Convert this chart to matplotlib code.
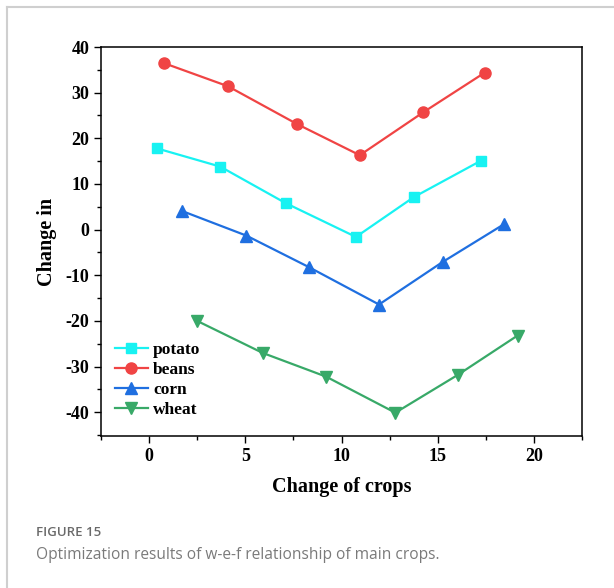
import matplotlib.pyplot as plt
from matplotlib.lines import Line2D
from matplotlib.ticker import MultipleLocator

# crop change results
potato_x = [0.4, 3.7, 7.1, 10.75, 13.75, 17.25]
potato_y = [17.8, 13.8, 5.8, -1.6, 7.1, 15.1]
beans_x = [0.75, 4.1, 7.7, 10.95, 14.25, 17.45]
beans_y = [36.5, 31.4, 23.1, 16.3, 25.7, 34.4]
corn_x = [1.7, 5.05, 8.3, 11.95, 15.25, 18.45]
corn_y = [4.1, -1.3, -8.2, -16.4, -7.1, 1.2]
wheat_x = [2.5, 5.9, 9.2, 12.8, 16.05, 19.15]
wheat_y = [-20.0, -27.0, -32.2, -40.1, -31.8, -23.2]

plt.rcParams['font.family'] = 'Liberation Serif'
plt.rcParams['font.weight'] = 'bold'
plt.rcParams['axes.unicode_minus'] = False

fig = plt.figure(figsize=(6.14, 5.88), dpi=100)

# light frame around the figure panel
fig.add_artist(Line2D([7 / 614, 7 / 614], [0, 1 - 7 / 588], color='#cfcfcf', lw=1.5))
fig.add_artist(Line2D([7 / 614, 1], [1 - 7 / 588, 1 - 7 / 588], color='#cfcfcf', lw=1.5))

ax = fig.add_axes([101 / 614, 1 - 436 / 588, 481 / 614, 389 / 588])

ax.plot(potato_x, potato_y, color='#18f2f2', marker='s', ms=7.5, lw=1.6, label='potato')
ax.plot(beans_x, beans_y, color='#f04444', marker='o', ms=8, lw=1.6, label='beans')
ax.plot(corn_x, corn_y, color='#1f6fe0', marker='^', ms=8.5, lw=1.6, label='corn')
ax.plot(wheat_x, wheat_y, color='#38a968', marker='v', ms=8.5, lw=1.6, label='wheat')

ax.set_xlim(-2.5, 22.5)
ax.set_ylim(-45.2, 40)
ax.xaxis.set_major_locator(MultipleLocator(5))
ax.xaxis.set_minor_locator(MultipleLocator(2.5))
ax.yaxis.set_major_locator(MultipleLocator(10))
ax.yaxis.set_minor_locator(MultipleLocator(5))
ax.tick_params(which='both', direction='out', top=False, right=False, labelsize=13, width=1)
ax.tick_params(which='major', length=5)
ax.tick_params(which='minor', length=3)
for s in ax.spines.values():
    s.set_linewidth(1.1)

ax.set_xlabel('Change of crops', fontsize=14.5, fontweight='bold', labelpad=9)
ax.set_ylabel('Change in', fontsize=14.5, fontweight='bold', labelpad=6)

ax.legend(loc='lower left', bbox_to_anchor=(0.0, 0.01), frameon=False, fontsize=12.5,
          handlelength=1.9, handletextpad=0.3, labelspacing=0.22, borderaxespad=0.4)

fig.text(36 / 614, 1 - 532 / 588, 'FIGURE 15', family='Open Sans', weight='semibold',
         fontsize=9.5, color='#6a6a6a', va='center')
fig.text(36 / 614, 1 - 555 / 588, 'Optimization results of w-e-f relationship of main crops.',
         family='Open Sans', weight='normal', fontsize=11.2, color='#7a7a7a', va='center')

fig.savefig('out.png', dpi=100)
